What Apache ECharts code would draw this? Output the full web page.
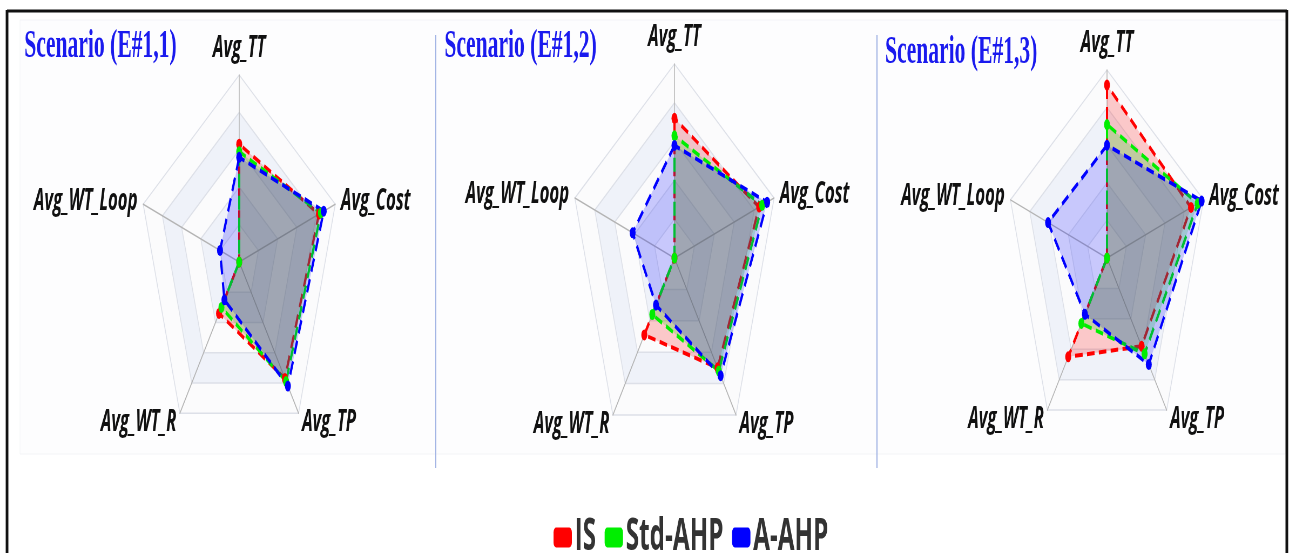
<!DOCTYPE html>
<html>
<head>
<meta charset="utf-8">
<script src="https://cdn.jsdelivr.net/npm/echarts@6/dist/echarts.min.js"></script>
<style>
  html, body { margin: 0; padding: 0; background: #fff; overflow: hidden; }
  /* the source figure is squeezed horizontally, so the whole canvas is too */
  #main { width: 2398px; height: 553px; transform: scaleX(0.54); transform-origin: 0 0; }
</style>
</head>
<body>
<div id="main"></div>
<script>
// axes, clockwise order as drawn in ECharts (counter-clockwise from top)
let indicators = ['Avg_TT', 'Avg_WT_Loop', 'Avg_WT_R', 'Avg_TP', 'Avg_Cost'];
let methods = ['IS', 'Std-AHP', 'A-AHP'];
let scenarios = ['Scenario (E#1,1)', 'Scenario (E#1,2)', 'Scenario (E#1,3)'];

// values per method, same order as indicators (normalised 0..1)
let e11_IS  = [0.63, 0, 0.34, 0.77, 0.83];
let e11_Std = [0.59, 0, 0.30, 0.79, 0.85];
let e11_A   = [0.56, 0.20, 0.25, 0.82, 0.88];

let e12_IS  = [0.72, 0, 0.49, 0.70, 0.85];
let e12_Std = [0.63, 0, 0.36, 0.72, 0.88];
let e12_A   = [0.58, 0.42, 0.30, 0.75, 0.93];

let e13_IS  = [0.92, 0, 0.65, 0.58, 0.87];
let e13_Std = [0.71, 0, 0.43, 0.63, 0.94];
let e13_A   = [0.60, 0.61, 0.37, 0.70, 0.98];

let scenarioData = [
  [e11_IS, e11_Std, e11_A],
  [e12_IS, e12_Std, e12_A],
  [e13_IS, e13_Std, e13_A]
];

let colors = ['#ff0000', '#00ee00', '#0000ff'];

let chart = echarts.init(document.getElementById('main'));

let radarLayout = [
  { center: [443, 262], radius: 187 },
  { center: [1249, 258], radius: 194 },
  { center: [2050, 258], radius: 188 }
];
let titlePos = [
  { left: 40, top: 22 },
  { left: 818, top: 22 },
  { left: 1634, top: 28 }
];

let radars = radarLayout.map(function (l) {
  return {
    center: l.center,
    radius: l.radius,
    shape: 'polygon',
    splitNumber: 5,
    nameGap: 11,
    indicator: indicators.map(function (n) { return { name: n, min: 0, max: 1 }; }),
    axisName: {
      color: '#111',
      fontSize: 31,
      fontWeight: 'bold',
      fontStyle: 'italic',
      fontFamily: 'Open Sans'
    },
    axisLine: { lineStyle: { color: '#b4b4b4', width: 1.5 } },
    splitLine: { lineStyle: { color: '#dde0e8', width: 1.5 } },
    splitArea: {
      show: true,
      areaStyle: { color: ['rgba(250,250,250,0.3)', 'rgba(210,219,238,0.3)'] }
    }
  };
});

let series = [];
scenarioData.forEach(function (rows, ri) {
  rows.forEach(function (vals, mi) {
    series.push({
      name: methods[mi],
      type: 'radar',
      radarIndex: ri,
      symbol: 'circle',
      symbolSize: 11,
      itemStyle: { color: colors[mi] },
      lineStyle: { color: colors[mi], width: 4, type: [14, 8] },
      areaStyle: { color: colors[mi], opacity: 0.2 },
      data: [{ name: methods[mi], value: vals }]
    });
  });
});

let option = {
  backgroundColor: '#fff',
  animation: false,
  title: scenarios.map(function (t, i) {
    return {
      text: t,
      left: titlePos[i].left,
      top: titlePos[i].top,
      textStyle: {
        color: '#1a1aee',
        fontFamily: 'Liberation Serif',
        fontWeight: 'bold',
        fontSize: 40
      }
    };
  }),
  legend: {
    data: methods,
    left: 1020,
    top: 510,
    icon: 'roundRect',
    itemWidth: 34,
    itemHeight: 20,
    itemGap: 16,
    textStyle: {
      color: '#333',
      fontSize: 45,
      fontWeight: 'bold',
      fontFamily: 'Open Sans'
    }
  },
  radar: radars,
  graphic: [
    // faint panel background
    { type: 'rect', z: -10, shape: { x: 37, y: 20, width: 2343, height: 434 },
      style: { fill: '#fdfdfe', stroke: '#f3f4f7', lineWidth: 1 } },
    // panel separators
    { type: 'line', shape: { x1: 807, y1: 35, x2: 807, y2: 468 },
      style: { stroke: '#9fb2e4', lineWidth: 2 } },
    { type: 'line', shape: { x1: 1624, y1: 35, x2: 1624, y2: 468 },
      style: { stroke: '#9fb2e4', lineWidth: 2 } },
    // outer frame
    { type: 'line', shape: { x1: 13, y1: 11, x2: 2383, y2: 11 },
      style: { stroke: '#111', lineWidth: 3 } },
    { type: 'line', shape: { x1: 13, y1: 10, x2: 13, y2: 560 },
      style: { stroke: '#111', lineWidth: 5 } },
    { type: 'line', shape: { x1: 2383, y1: 10, x2: 2383, y2: 560 },
      style: { stroke: '#111', lineWidth: 5 } }
  ],
  series: series
};

chart.setOption(option);
</script>
</body>
</html>
